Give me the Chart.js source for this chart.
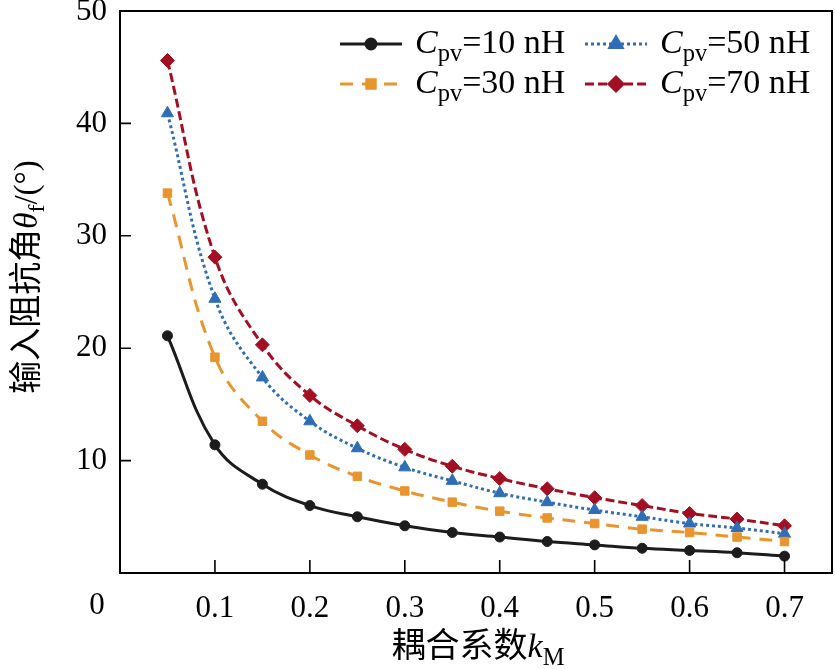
<!DOCTYPE html>
<html>
<head>
<meta charset="utf-8">
<script src="https://cdn.jsdelivr.net/npm/chart.js@4.4.1/dist/chart.umd.min.js"></script>
<style>
  html, body { margin: 0; padding: 0; background: #fff; overflow: hidden; }
  #wrap { width: 840px; height: 669px; }
</style>
</head>
<body>
<div id="wrap"><canvas id="chart-theta"></canvas></div>
<script>
// coupling coefficient k_M
const kM = [0.05, 0.1, 0.15, 0.2, 0.25, 0.3, 0.35, 0.4, 0.45, 0.5, 0.55, 0.6, 0.65, 0.7];

// input impedance angle (deg) for each C_pv
const theta10 = [21.1, 11.4, 7.9, 6.0, 5.0, 4.2, 3.6, 3.2, 2.8, 2.5, 2.2, 2.0, 1.8, 1.5];
const theta30 = [33.8, 19.2, 13.5, 10.5, 8.6, 7.3, 6.3, 5.5, 4.9, 4.4, 3.9, 3.6, 3.2, 2.8];
const theta50 = [40.9, 24.4, 17.4, 13.5, 11.1, 9.4, 8.2, 7.1, 6.3, 5.6, 5.0, 4.4, 4.0, 3.5];
const theta70 = [45.6, 28.1, 20.3, 15.8, 13.1, 11.0, 9.5, 8.4, 7.5, 6.7, 6.0, 5.3, 4.8, 4.2];

const seriesLabels = ['10 nH', '30 nH', '50 nH', '70 nH'];
const xTicks = [0.1, 0.2, 0.3, 0.4, 0.5, 0.6, 0.7];
const yTicks = [10, 20, 30, 40];

const SERIF = '"Liberation Serif", "Noto Sans CJK SC", serif';
const TICK_SIZE = 31;

const STYLES = [
    { color: '#1c1c1c', dash: [], shape: 'circle', r: 5 },
    { color: '#e8952f', dash: [13, 9], shape: 'rect', r: 6 },
    { color: '#2f6db4', dash: [3, 3], shape: 'triangle', r: 7 },
    { color: '#a30f22', dash: [9, 4], shape: 'rectRot', r: 7 },
];

function mkData(vals) {
    return kM.map((k, i) => ({ x: k, y: vals[i] }));
}

// draws a run of text pieces; piece: {t, italic, sub}
function drawRich(ctx, parts, x, y, base) {
    let cx = x;
    parts.forEach(p => {
        const size = p.sub ? base * 0.72 : base;
        ctx.font = `${p.italic ? 'italic ' : ''}${size}px ${SERIF}`;
        ctx.fillText(p.t, cx, p.sub ? y + base * 0.3 : y);
        cx += ctx.measureText(p.t).width;
    });
    return cx - x;
}

function measureRich(ctx, parts, base) {
    let w = 0;
    parts.forEach(p => {
        const size = p.sub ? base * 0.72 : base;
        ctx.font = `${p.italic ? 'italic ' : ''}${size}px ${SERIF}`;
        w += ctx.measureText(p.t).width;
    });
    return w;
}

const decorPlugin = {
    id: 'decor',
    afterDraw(chart) {
        const ctx = chart.ctx;
        const area = chart.chartArea;
        const xs = chart.scales.x;
        const ys = chart.scales.y;
        ctx.save();

        // frame
        ctx.strokeStyle = '#000';
        ctx.lineWidth = 2;
        ctx.setLineDash([]);
        ctx.strokeRect(area.left, area.top, area.right - area.left, area.bottom - area.top);

        // inward ticks
        ctx.lineWidth = 1.6;
        ctx.beginPath();
        xTicks.forEach(v => {
            const px = xs.getPixelForValue(v);
            ctx.moveTo(px, area.bottom);
            ctx.lineTo(px, area.bottom - 13);
        });
        yTicks.forEach(v => {
            const py = ys.getPixelForValue(v);
            ctx.moveTo(area.left, py);
            ctx.lineTo(area.left + 11, py);
        });
        ctx.stroke();

        // origin and top labels (kept off the scale so they don't pad the layout)
        ctx.fillStyle = '#000';
        ctx.textBaseline = 'middle';
        ctx.font = `${TICK_SIZE}px ${SERIF}`;
        ctx.textAlign = 'center';
        ctx.fillText('0', area.left - 23, area.bottom + 33);
        ctx.textAlign = 'right';
        ctx.fillText('50', area.left - 13, ys.getPixelForValue(50) + 1);

        // legend
        ctx.textAlign = 'left';
        const slots = [
            { x: 340, y: 44 }, { x: 340, y: 84 },
            { x: 585, y: 44 }, { x: 585, y: 84 },
        ];
        chart.data.datasets.forEach((ds, i) => {
            const s = slots[i];
            const st = STYLES[i];
            ctx.strokeStyle = st.color;
            ctx.lineWidth = 3;
            ctx.setLineDash(st.dash);
            ctx.beginPath();
            ctx.moveTo(s.x, s.y);
            ctx.lineTo(s.x + 62, s.y);
            ctx.stroke();
            ctx.setLineDash([]);
            ctx.fillStyle = st.color;
            Chart.helpers.drawPoint(ctx, { pointStyle: st.shape, radius: st.r, borderWidth: 1 }, s.x + 31, s.y);
            ctx.fillStyle = '#000';
            drawRich(ctx, [
                { t: 'C', italic: true },
                { t: 'pv', sub: true },
                { t: '=' + seriesLabels[i] },
            ], s.x + 75, s.y, 34);
        });

        // x title
        const xParts = [{ t: '耦合系数' }, { t: 'k', italic: true }, { t: 'M', sub: true }];
        const xw = measureRich(ctx, xParts, 34);
        drawRich(ctx, xParts, 478 - xw / 2, 648, 34);

        // y title
        ctx.translate(28, 277);
        ctx.rotate(-Math.PI / 2);
        const yParts = [{ t: '输入阻抗角' }, { t: 'θ', italic: true }, { t: 'f', sub: true }, { t: '/(°)' }];
        const yw = measureRich(ctx, yParts, 33);
        drawRich(ctx, yParts, -yw / 2, 0, 33);

        ctx.restore();
    },
};

new Chart(document.getElementById('chart-theta'), {
    type: 'line',
    data: {
        datasets: [theta10, theta30, theta50, theta70].map((vals, i) => ({
            label: seriesLabels[i],
            data: mkData(vals),
            borderColor: STYLES[i].color,
            backgroundColor: STYLES[i].color,
            borderWidth: 3,
            borderDash: STYLES[i].dash,
            pointStyle: STYLES[i].shape,
            pointRadius: STYLES[i].r,
            pointBorderWidth: 1,
            tension: 0.4,
            fill: false,
        })),
    },
    options: {
        responsive: true,
        maintainAspectRatio: false,
        animation: false,
        layout: { padding: { left: 0, top: 11, right: 0, bottom: 0 } },
        plugins: {
            legend: { display: false },
            tooltip: { enabled: false },
        },
        scales: {
            x: {
                type: 'linear',
                min: 0,
                max: 0.75,
                afterFit: s => {
                    s.height = 96;
                    s.paddingLeft = 0;
                    s.paddingRight = 0;
                },
                afterBuildTicks: s => { s.ticks = xTicks.map(v => ({ value: v })); },
                grid: { display: false, drawTicks: false },
                border: { display: true, color: '#000', width: 2 },
                ticks: {
                    color: '#000',
                    padding: 17,
                    font: { family: SERIF, size: TICK_SIZE },
                    callback: v => v.toFixed(1),
                },
            },
            y: {
                min: 0,
                max: 50,
                afterFit: s => {
                    s.width = 120;
                    s.paddingTop = 0;
                    s.paddingBottom = 0;
                },
                afterBuildTicks: s => { s.ticks = yTicks.map(v => ({ value: v })); },
                grid: { display: false, drawTicks: false },
                border: { display: true, color: '#000', width: 2 },
                ticks: {
                    color: '#000',
                    padding: 13,
                    font: { family: SERIF, size: TICK_SIZE },
                },
            },
        },
    },
    plugins: [decorPlugin],
});
</script>
</body>
</html>
